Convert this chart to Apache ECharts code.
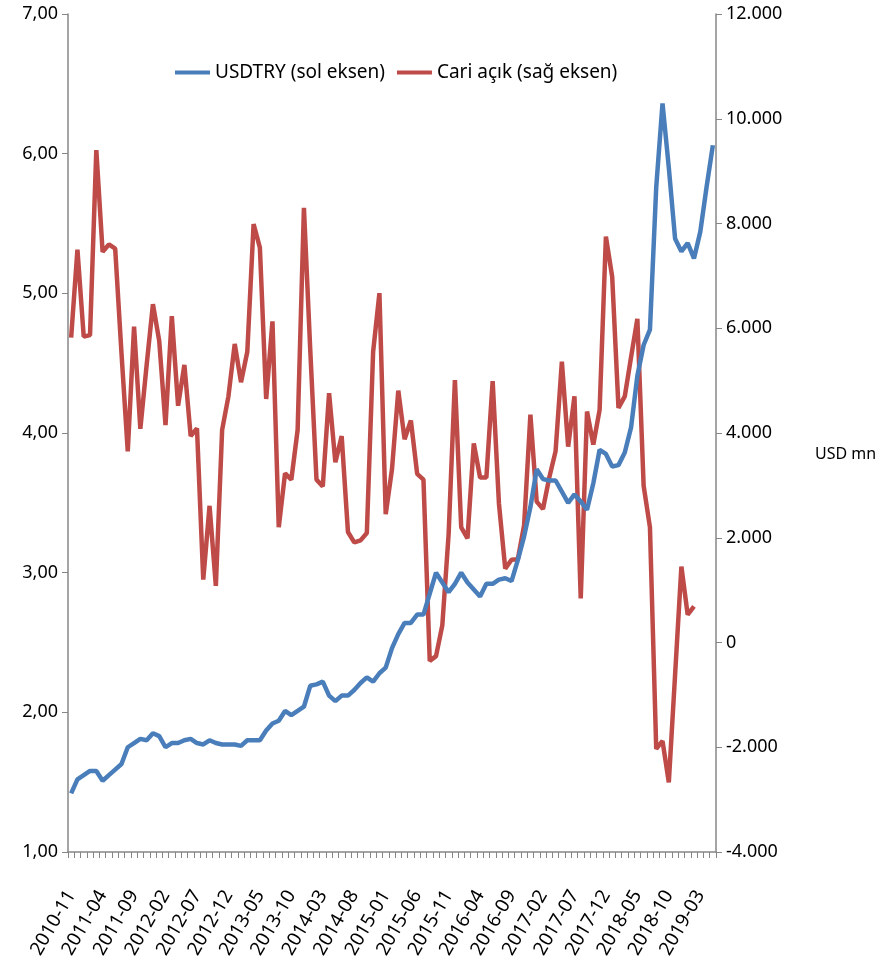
<!DOCTYPE html>
<html>
<head>
<meta charset="utf-8">
<script src="https://cdn.jsdelivr.net/npm/echarts@6/dist/echarts.min.js"></script>
<style>
html,body{margin:0;padding:0;background:#fff;}
#c{width:895px;height:973px;}
</style>
</head>
<body>
<div id="c"></div>
<script>
var months = [
'2010-11','2010-12',
'2011-01','2011-02','2011-03','2011-04','2011-05','2011-06','2011-07','2011-08','2011-09','2011-10','2011-11','2011-12',
'2012-01','2012-02','2012-03','2012-04','2012-05','2012-06','2012-07','2012-08','2012-09','2012-10','2012-11','2012-12',
'2013-01','2013-02','2013-03','2013-04','2013-05','2013-06','2013-07','2013-08','2013-09','2013-10','2013-11','2013-12',
'2014-01','2014-02','2014-03','2014-04','2014-05','2014-06','2014-07','2014-08','2014-09','2014-10','2014-11','2014-12',
'2015-01','2015-02','2015-03','2015-04','2015-05','2015-06','2015-07','2015-08','2015-09','2015-10','2015-11','2015-12',
'2016-01','2016-02','2016-03','2016-04','2016-05','2016-06','2016-07','2016-08','2016-09','2016-10','2016-11','2016-12',
'2017-01','2017-02','2017-03','2017-04','2017-05','2017-06','2017-07','2017-08','2017-09','2017-10','2017-11','2017-12',
'2018-01','2018-02','2018-03','2018-04','2018-05','2018-06','2018-07','2018-08','2018-09','2018-10','2018-11','2018-12',
'2019-01','2019-02','2019-03','2019-04','2019-05'
];

var usdtry = [
1.42,1.52,1.55,1.58,1.58,1.51,1.55,1.59,1.63,1.75,1.78,1.81,1.80,1.85,1.83,1.75,1.78,1.78,1.80,1.81,
1.78,1.77,1.80,1.78,1.77,1.77,1.77,1.76,1.80,1.80,1.80,1.87,1.92,1.94,2.01,1.98,2.01,2.04,2.19,2.20,
2.22,2.12,2.08,2.12,2.12,2.16,2.21,2.25,2.22,2.28,2.32,2.46,2.56,2.64,2.64,2.70,2.70,2.85,3.00,2.93,
2.86,2.92,3.00,2.93,2.88,2.83,2.92,2.92,2.95,2.96,2.94,3.09,3.26,3.47,3.74,3.67,3.66,3.66,3.58,3.50,
3.56,3.51,3.45,3.64,3.88,3.85,3.76,3.77,3.86,4.04,4.41,4.63,4.74,5.76,6.36,5.90,5.39,5.30,5.36,5.25,
5.44,5.76,6.06
];

var cariAcik = [
5820,7500,5840,5870,9400,7460,7600,7520,5530,3650,6030,4080,5300,6460,5760,4150,6230,4520,5300,3940,
4090,1200,2610,1080,4060,4700,5700,4970,5550,7990,7540,4650,6130,2200,3230,3110,4060,8300,5600,3110,
2980,4760,3440,3940,2110,1910,1950,2090,5550,6670,2450,3310,4810,3880,4240,3220,3110,-350,-260,330,
2070,5010,2200,1990,3800,3150,3150,4990,2650,1410,1580,1590,2240,4350,2690,2550,3150,3650,5360,3740,
4700,840,4410,3780,4440,7750,6980,4480,4700,5450,6180,2990,2200,-2030,-1880,-2670,-610,1450,530,690
];

var leftTicks = [1,2,3,4,5,6,7];
var rightTicks = [-4000,-2000,0,2000,4000,6000,8000,10000,12000];

var FONT = "'Noto Sans',sans-serif";

function fmtLeft(v){ return v.toFixed(2).replace('.', ','); }
function fmtRight(v){
  var s = Math.abs(v).toString().replace(/\B(?=(\d{3})+(?!\d))/g, '.');
  return (v < 0 ? '-' : '') + s;
}

var chart = echarts.init(document.getElementById('c'), null, {renderer:'canvas'});
chart.setOption({
  animation:false,
  backgroundColor:'#ffffff',
  textStyle:{fontFamily:FONT},
  legend:{
    left:170, top:58,
    itemWidth:35, itemHeight:4, itemGap:12,
    icon:'rect',
    textStyle:{fontFamily:FONT, fontSize:19, color:'#000'},
    data:['USDTRY (sol eksen)','Cari açık (sağ eksen)']
  },
  grid:{left:68, right:179, top:14, bottom:121, containLabel:false},
  xAxis:{
    type:'category',
    data:months,
    boundaryGap:true,
    axisLine:{onZero:false, lineStyle:{color:'#868686', width:1.5}},
    axisTick:{show:true, interval:0, length:6, lineStyle:{color:'#868686'}},
    axisLabel:{interval:4, rotate:60, margin:40, fontFamily:FONT, fontSize:19, color:'#000'},
    splitLine:{show:false}
  },
  yAxis:[
    {
      type:'value', position:'left',
      min:leftTicks[0], max:leftTicks[leftTicks.length-1], interval:1,
      axisLine:{show:true, lineStyle:{color:'#868686', width:1.5}},
      axisTick:{show:true, length:6, lineStyle:{color:'#868686'}},
      axisLabel:{formatter:fmtLeft, fontFamily:FONT, fontSize:18, color:'#000', margin:10},
      splitLine:{show:false}
    },
    {
      type:'value', position:'right',
      min:rightTicks[0], max:rightTicks[rightTicks.length-1], interval:2000,
      axisLine:{show:true, lineStyle:{color:'#868686', width:1.5}},
      axisTick:{show:true, length:6, lineStyle:{color:'#868686'}},
      axisLabel:{formatter:fmtRight, fontFamily:FONT, fontSize:18, color:'#000', margin:10},
      splitLine:{show:false}
    }
  ],
  graphic:[{
    type:'text', left:815, top:446,
    style:{text:'USD mn', font:"16px 'Noto Sans',sans-serif", fill:'#000'}
  }],
  series:[
    {
      name:'USDTRY (sol eksen)', type:'line', yAxisIndex:0,
      data:usdtry, showSymbol:false, symbol:'none',
      lineStyle:{color:'#4A7EBB', width:4.5},
      itemStyle:{color:'#4A7EBB'}, z:3
    },
    {
      name:'Cari açık (sağ eksen)', type:'line', yAxisIndex:1,
      data:cariAcik, showSymbol:false, symbol:'none',
      lineStyle:{color:'#BE4B48', width:4.5},
      itemStyle:{color:'#BE4B48'}, z:2
    }
  ]
});
</script>
</body>
</html>
